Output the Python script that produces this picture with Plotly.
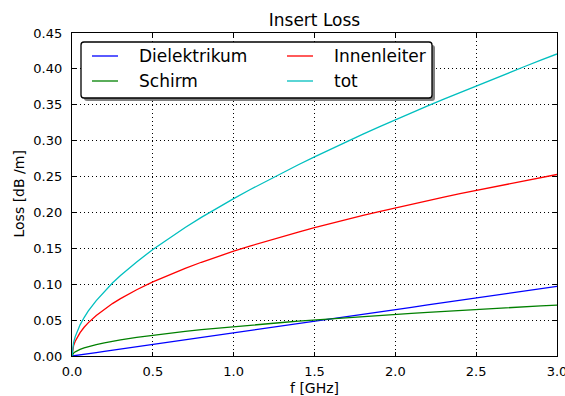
import plotly.graph_objects as go

f_ghz = [0, 0.005, 0.01, 0.02, 0.035, 0.05, 0.075, 0.1, 0.15, 0.2, 0.25, 0.3, 0.4, 0.5,
         0.6, 0.7, 0.8, 0.9, 1.0, 1.1, 1.2, 1.3, 1.4, 1.5, 1.6, 1.7, 1.8, 1.9, 2.0,
         2.1, 2.2, 2.3, 2.4, 2.5, 2.6, 2.7, 2.8, 2.9, 3.0]
dielektrikum = [0, 0.0002, 0.0003, 0.0006, 0.0011, 0.0016, 0.0024, 0.0032, 0.0048, 0.0065,
                0.0081, 0.0097, 0.0129, 0.0162, 0.0194, 0.0226, 0.0258, 0.0291, 0.0323,
                0.0355, 0.0388, 0.0420, 0.0452, 0.0485, 0.0517, 0.0549, 0.0581, 0.0614,
                0.0646, 0.0678, 0.0711, 0.0743, 0.0775, 0.0808, 0.0840, 0.0872, 0.0904,
                0.0937, 0.0969]
innenleiter = [0, 0.0103, 0.0146, 0.0206, 0.0273, 0.0326, 0.0400, 0.0462, 0.0565, 0.0653,
               0.0730, 0.0800, 0.0923, 0.1032, 0.1131, 0.1222, 0.1306, 0.1385, 0.1460,
               0.1531, 0.1599, 0.1665, 0.1727, 0.1788, 0.1847, 0.1904, 0.1959, 0.2012,
               0.2065, 0.2116, 0.2165, 0.2214, 0.2262, 0.2308, 0.2354, 0.2399, 0.2443,
               0.2486, 0.2529]
schirm = [0, 0.0029, 0.0041, 0.0058, 0.0077, 0.0092, 0.0112, 0.0130, 0.0159, 0.0183,
          0.0205, 0.0225, 0.0259, 0.0290, 0.0318, 0.0343, 0.0367, 0.0389, 0.0410,
          0.0430, 0.0449, 0.0467, 0.0485, 0.0502, 0.0519, 0.0535, 0.0550, 0.0565,
          0.0580, 0.0594, 0.0608, 0.0622, 0.0635, 0.0648, 0.0661, 0.0674, 0.0686,
          0.0698, 0.0710]
tot = [0, 0.0134, 0.0190, 0.0270, 0.0361, 0.0434, 0.0536, 0.0624, 0.0772, 0.0901,
       0.1016, 0.1122, 0.1311, 0.1484, 0.1643, 0.1791, 0.1931, 0.2065, 0.2193,
       0.2316, 0.2436, 0.2552, 0.2664, 0.2775, 0.2883, 0.2988, 0.3090, 0.3191,
       0.3291, 0.3388, 0.3484, 0.3579, 0.3672, 0.3764, 0.3855, 0.3945, 0.4033,
       0.4121, 0.4208]

x_ticks = [0.0, 0.5, 1.0, 1.5, 2.0, 2.5, 3.0]
y_ticks = [0.00, 0.05, 0.10, 0.15, 0.20, 0.25, 0.30, 0.35, 0.40, 0.45]

FONT = "DejaVu Sans"
W, H = 565, 396
L, R, T, B = 72, 557, 33, 356


def px(x):
    return (x - L) / (R - L)


def py(y):
    return (B - y) / (B - T)


fig = go.Figure()
series = [("Dielektrikum", dielektrikum, "#0000ff"),
          ("Innenleiter", innenleiter, "#ff0000"),
          ("Schirm", schirm, "#008000"),
          ("tot", tot, "#00bfbf")]
for name, vals, col in series:
    fig.add_trace(go.Scatter(x=f_ghz, y=vals, name=name, mode="lines", showlegend=False,
                             line=dict(color=col, width=1.3)))

axis_common = dict(showline=True, linecolor="black", linewidth=1.3, mirror="ticks",
                   ticks="inside", ticklen=4, tickcolor="black", tickwidth=1,
                   showgrid=True, gridcolor="black", griddash="1px,3px", gridwidth=1,
                   zeroline=False, automargin=False, ticklabeloverflow="allow",
                   tickfont=dict(family=FONT, size=13, color="black"))
fig.update_xaxes(range=[0, 3], tickvals=x_ticks, ticktext=[f"{v:.1f}" for v in x_ticks],
                 ticklabelstandoff=3, **axis_common)
fig.update_yaxes(range=[0, 0.45], tickvals=y_ticks, ticktext=[f"{v:.2f}" for v in y_ticks],
                 ticklabelstandoff=6, **axis_common)


def rrect(x0, y0, x1, y1, r):
    pts = [f"M {px(x0 + r)},{py(y0)}",
           f"L {px(x1 - r)},{py(y0)}",
           f"Q {px(x1)},{py(y0)} {px(x1)},{py(y0 + r)}",
           f"L {px(x1)},{py(y1 - r)}",
           f"Q {px(x1)},{py(y1)} {px(x1 - r)},{py(y1)}",
           f"L {px(x0 + r)},{py(y1)}",
           f"Q {px(x0)},{py(y1)} {px(x0)},{py(y1 - r)}",
           f"L {px(x0)},{py(y0 + r)}",
           f"Q {px(x0)},{py(y0)} {px(x0 + r)},{py(y0)} Z"]
    return " ".join(pts)


# legend: shadow, box, entries
fig.add_shape(type="path", xref="paper", yref="paper", path=rrect(84, 45, 435, 101, 3),
              fillcolor="#808080", line=dict(width=0), layer="above")
fig.add_shape(type="path", xref="paper", yref="paper", path=rrect(81, 42, 432, 98, 3),
              fillcolor="white", line=dict(color="black", width=1.3), layer="above")

legend_items = [("Dielektrikum", "#0000ff", 92, 56), ("Innenleiter", "#ff0000", 287, 56),
                ("Schirm", "#008000", 92, 81), ("tot", "#00bfbf", 287, 81)]
for name, col, lx, ly in legend_items:
    fig.add_shape(type="line", xref="paper", yref="paper",
                  x0=px(lx), x1=px(lx + 26), y0=py(ly), y1=py(ly),
                  line=dict(color=col, width=1.3), layer="above")
    fig.add_annotation(text=name, xref="paper", yref="paper", x=px(lx + 45), y=py(ly),
                       xanchor="left", yanchor="middle", showarrow=False,
                       font=dict(family=FONT, size=17, color="black"))

# axis titles
fig.add_annotation(text="f [GHz]", xref="paper", yref="paper", x=0.5, y=py(388),
                   xanchor="center", yanchor="middle", showarrow=False,
                   font=dict(family=FONT, size=14, color="black"))
fig.add_annotation(text="Loss [dB /m]", xref="paper", yref="paper", x=px(18), y=0.5,
                   xanchor="center", yanchor="middle", showarrow=False, textangle=-90,
                   font=dict(family=FONT, size=14, color="black"))

fig.update_layout(
    width=W, height=H,
    margin=dict(l=L, r=W - R, t=T, b=H - B),
    paper_bgcolor="white", plot_bgcolor="white",
    title=dict(text="Insert Loss", x=0.5, xanchor="center", xref="paper",
               y=1 - 20 / H, yanchor="middle",
               font=dict(family=FONT, size=17, color="black")),
    showlegend=False,
)
fig.write_html("out.html", config={"displayModeBar": False},
               post_script="document.body.style.margin='0';document.body.style.overflow='hidden';")
